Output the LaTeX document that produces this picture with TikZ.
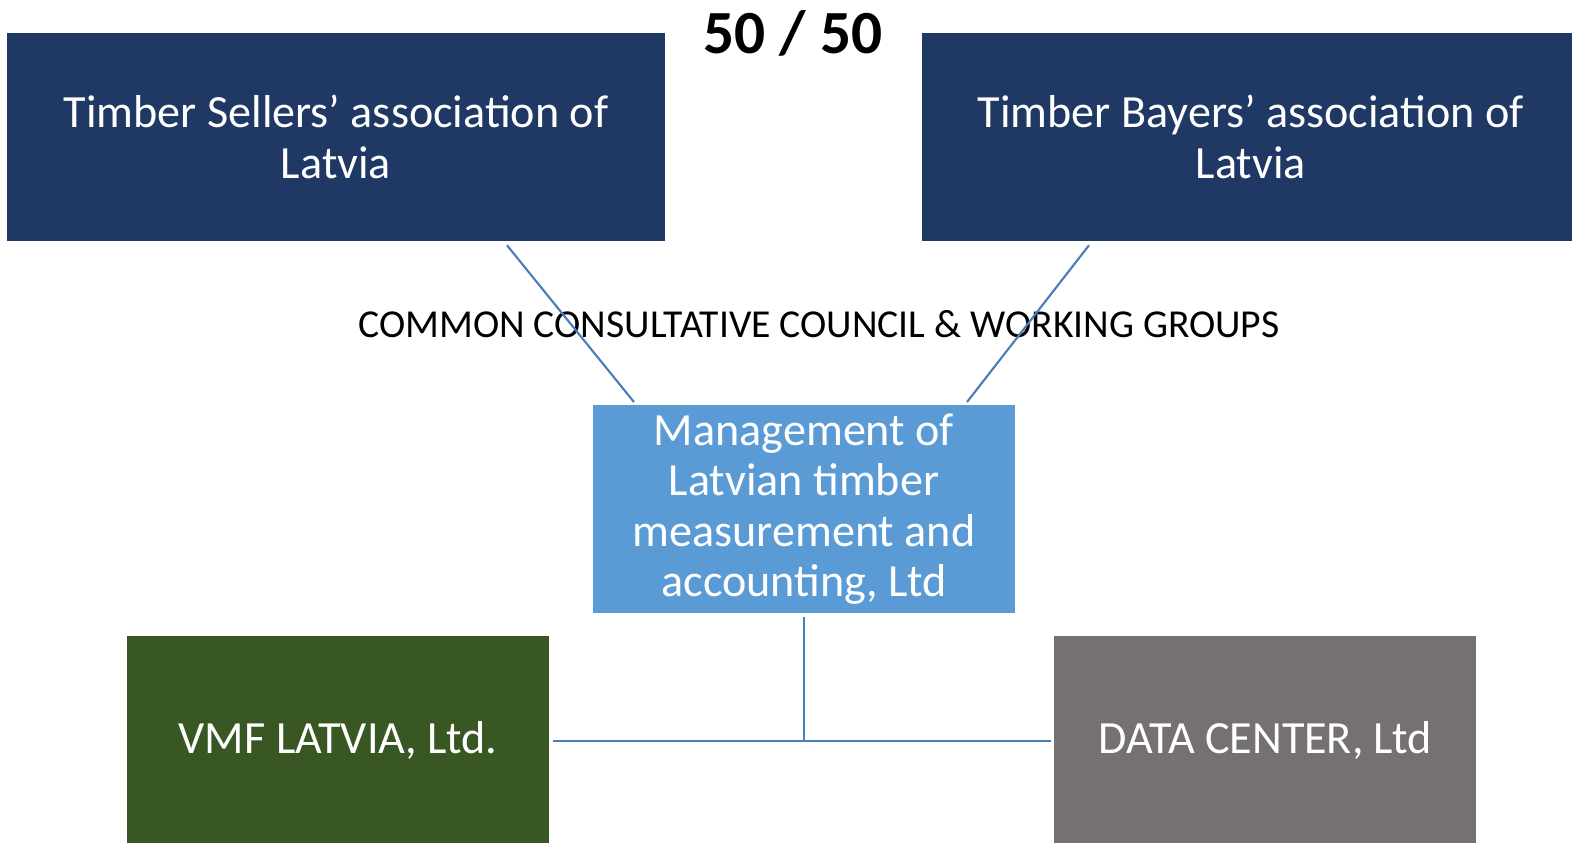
\documentclass[tikz,border=0pt]{standalone}
\usepackage{fontspec}
\setmainfont{Carlito}
\begin{document}
\begin{tikzpicture}[x=0.75pt,y=-0.75pt,
  box/.style={draw=none,inner sep=0pt,align=center,text=white,
    font=\fontsize{34.6}{37.8}\selectfont},
  conn/.style={draw={rgb,255:red,74;green,126;blue,187},line width=1.6pt}]
\definecolor{navy}{RGB}{32,56,100}
\definecolor{lblue}{RGB}{91,155,213}
\definecolor{dgreen}{RGB}{56,87,35}
\definecolor{dgray}{RGB}{118,113,113}
\useasboundingbox (0,0) rectangle (1572,843);
\node[box,fill=navy,minimum width=493pt,minimum height=156pt] (sell) at (336,137)
  {Timber Sellers’ association of\\Latvia};
\node[box,fill=navy,minimum width=489pt,minimum height=156pt] (buy) at (1248,137)
  {\hspace*{4pt}Timber Bayers’ association of\\\hspace*{4pt}Latvia};
\node[box,fill=lblue,minimum width=316pt,minimum height=156pt] (mgmt) at (804,509)
  {Management of\\Latvian timber\\measurement and\\accounting, Ltd};
\node[box,fill=dgreen,minimum width=316pt,minimum height=156pt] (vmf) at (338,740)
  {VMF LATVIA, Ltd.};
\node[box,fill=dgray,minimum width=316pt,minimum height=156pt] (data) at (1265,740)
  {DATA CENTER, Ltd};
\node[inner sep=0pt,font=\fontsize{46}{50}\selectfont\bfseries] (title) at (793,33) {50 / 50};
\node[inner sep=0pt,font=\fontsize{29.7}{32}\selectfont] (ccc) at (819,324)
  {COMMON CONSULTATIVE COUNCIL \& WORKING GROUPS};
\coordinate (junc) at (804,741);
\draw[conn] ([xshift=128.25pt,yshift=-3pt]sell.south) -- ([xshift=-127.5pt,yshift=2pt]mgmt.north);
\draw[conn] ([xshift=-119.25pt,yshift=-3pt]buy.south) -- ([xshift=122.25pt,yshift=2pt]mgmt.north);
\draw[conn] ([yshift=-3pt]mgmt.south) -- (junc);
\draw[conn] ([xshift=3pt,yshift=-0.75pt]vmf.east) -- ([xshift=-2pt,yshift=-0.75pt]data.west);
\end{tikzpicture}
\end{document}
